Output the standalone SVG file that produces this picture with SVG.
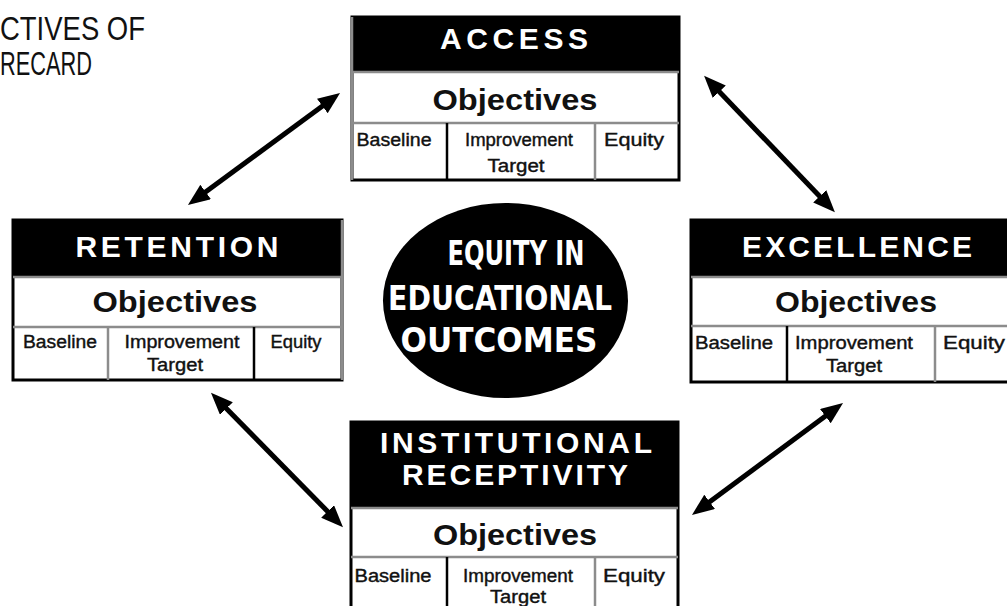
<svg xmlns="http://www.w3.org/2000/svg" width="1007" height="606" viewBox="0 0 1007 606">
  <style>
    .title { font-family: "Liberation Sans", Arial, sans-serif; font-size: 33px; fill: #111; }
    .box { fill: #fff; stroke: #000; stroke-width: 3; }
    .head { fill: #000; }
    .rule { stroke: #000; stroke-width: 2.5; }
    .dither { stroke: #8c8c8c; stroke-width: 2.5; }
    .htext { font-family: "Liberation Sans", Arial, sans-serif; font-weight: bold; font-size: 30px; fill: #fff; text-anchor: middle; }
    .otext { font-family: "Liberation Sans", Arial, sans-serif; font-weight: bold; font-size: 30px; fill: #111; text-anchor: middle; }
    .ctext { font-family: "Liberation Sans", Arial, sans-serif; font-size: 18px; fill: #111; stroke: #111; stroke-width: 0.4; text-anchor: middle; }
    .core { font-family: "DejaVu Sans Condensed", "DejaVu Sans", sans-serif; font-weight: bold; font-size: 34px; fill: #fff; text-anchor: middle; }
    .link { stroke: #000; stroke-width: 5; fill: none; marker-start: url(#tip); marker-end: url(#tip); }
  </style>
  <defs>
    <marker id="tip" markerUnits="userSpaceOnUse" markerWidth="24" markerHeight="20" refX="12" refY="9" orient="auto-start-reverse">
      <path d="M0,0 L22,9 L0,18 Z" fill="#000"/>
    </marker>
  </defs>

  <rect width="1007" height="606" fill="#fff"/>

  <!-- heading fragment at top left -->
  <g id="heading">
    <text class="title" x="0" y="40" textLength="145" lengthAdjust="spacingAndGlyphs">CTIVES OF</text>
    <text class="title" x="0" y="75" textLength="92" lengthAdjust="spacingAndGlyphs">RECARD</text>
  </g>

  <!-- connectors -->
  <g id="connectors">
    <line class="link" x1="332" y1="99" x2="196" y2="199"/>
    <line class="link" x1="711" y1="83" x2="828" y2="205"/>
    <line class="link" x1="218" y1="400" x2="336" y2="520"/>
    <line class="link" x1="835" y1="409" x2="700" y2="509"/>
  </g>

  <!-- centre -->
  <g id="equity">
    <ellipse cx="505.5" cy="300.5" rx="122.5" ry="97.5" fill="#000"/>
    <text class="core" x="516" y="265" textLength="137" lengthAdjust="spacingAndGlyphs">EQUITY IN</text>
    <text class="core" x="500" y="310" textLength="224" lengthAdjust="spacingAndGlyphs">EDUCATIONAL</text>
    <text class="core" x="499" y="352" textLength="197" lengthAdjust="spacingAndGlyphs">OUTCOMES</text>
  </g>

  <!-- ACCESS -->
  <g id="access">
    <rect class="box" x="352" y="17" width="327" height="163"/>
    <rect class="head" x="352" y="17" width="327" height="55"/>
    <line class="dither" x1="352" y1="72" x2="679" y2="72"/>
    <line class="dither" x1="352" y1="123" x2="679" y2="123"/>
    <line class="rule" x1="447" y1="123" x2="447" y2="180"/>
    <line class="dither" x1="595" y1="123" x2="595" y2="180"/>
    <line class="dither" x1="352" y1="17" x2="352" y2="180"/>
    <text class="htext" x="514" y="49" textLength="148" lengthAdjust="spacing">ACCESS</text>
    <text class="otext" x="515" y="110" textLength="165" lengthAdjust="spacingAndGlyphs">Objectives</text>
    <text class="ctext" x="394" y="146" textLength="75" lengthAdjust="spacingAndGlyphs">Baseline</text>
    <text class="ctext" x="519" y="146" textLength="108" lengthAdjust="spacingAndGlyphs">Improvement</text>
    <text class="ctext" x="516" y="172" textLength="57" lengthAdjust="spacingAndGlyphs">Target</text>
    <text class="ctext" x="634" y="146" textLength="60" lengthAdjust="spacingAndGlyphs">Equity</text>
  </g>

  <!-- RETENTION -->
  <g id="retention">
    <rect class="box" x="13" y="220" width="329" height="160"/>
    <rect class="head" x="13" y="220" width="329" height="57"/>
    <line class="dither" x1="13" y1="277" x2="342" y2="277"/>
    <line class="dither" x1="13" y1="327" x2="342" y2="327"/>
    <line class="dither" x1="108" y1="327" x2="108" y2="380"/>
    <line class="rule" x1="254" y1="327" x2="254" y2="380"/>
    <line class="dither" x1="342" y1="220" x2="342" y2="380"/>
    <text class="htext" x="177" y="257" textLength="203" lengthAdjust="spacing">RETENTION</text>
    <text class="otext" x="175" y="312" textLength="165" lengthAdjust="spacingAndGlyphs">Objectives</text>
    <text class="ctext" x="60" y="348" textLength="74" lengthAdjust="spacingAndGlyphs">Baseline</text>
    <text class="ctext" x="182" y="348" textLength="115" lengthAdjust="spacingAndGlyphs">Improvement</text>
    <text class="ctext" x="175" y="371" textLength="56" lengthAdjust="spacingAndGlyphs">Target</text>
    <text class="ctext" x="296" y="348" textLength="51" lengthAdjust="spacingAndGlyphs">Equity</text>
  </g>

  <!-- EXCELLENCE -->
  <g id="excellence">
    <rect class="box" x="691" y="220" width="330" height="162"/>
    <rect class="head" x="691" y="220" width="330" height="57"/>
    <line class="dither" x1="691" y1="277" x2="1021" y2="277"/>
    <line class="dither" x1="691" y1="326" x2="1021" y2="326"/>
    <line class="rule" x1="787" y1="326" x2="787" y2="382"/>
    <line class="dither" x1="935" y1="326" x2="935" y2="382"/>
    <text class="htext" x="857" y="257" textLength="230" lengthAdjust="spacing">EXCELLENCE</text>
    <text class="otext" x="856" y="312" textLength="162" lengthAdjust="spacingAndGlyphs">Objectives</text>
    <text class="ctext" x="734" y="349" textLength="78" lengthAdjust="spacingAndGlyphs">Baseline</text>
    <text class="ctext" x="854" y="349" textLength="118" lengthAdjust="spacingAndGlyphs">Improvement</text>
    <text class="ctext" x="854" y="372" textLength="56" lengthAdjust="spacingAndGlyphs">Target</text>
    <text class="ctext" x="974" y="349" textLength="62" lengthAdjust="spacingAndGlyphs">Equity</text>
  </g>

  <!-- INSTITUTIONAL RECEPTIVITY -->
  <g id="receptivity">
    <rect class="box" x="351" y="422" width="327" height="200"/>
    <rect class="head" x="351" y="422" width="327" height="86"/>
    <line class="dither" x1="351" y1="508" x2="678" y2="508"/>
    <line class="dither" x1="351" y1="557" x2="678" y2="557"/>
    <line class="rule" x1="447" y1="557" x2="447" y2="622"/>
    <line class="dither" x1="595" y1="557" x2="595" y2="622"/>
    <text class="htext" x="516" y="453" textLength="272" lengthAdjust="spacing">INSTITUTIONAL</text>
    <text class="htext" x="515" y="485" textLength="226" lengthAdjust="spacing">RECEPTIVITY</text>
    <text class="otext" x="515" y="545" textLength="164" lengthAdjust="spacingAndGlyphs">Objectives</text>
    <text class="ctext" x="393" y="582" textLength="77" lengthAdjust="spacingAndGlyphs">Baseline</text>
    <text class="ctext" x="518" y="582" textLength="110" lengthAdjust="spacingAndGlyphs">Improvement</text>
    <text class="ctext" x="518" y="603" textLength="56" lengthAdjust="spacingAndGlyphs">Target</text>
    <text class="ctext" x="634" y="582" textLength="62" lengthAdjust="spacingAndGlyphs">Equity</text>
  </g>
</svg>
